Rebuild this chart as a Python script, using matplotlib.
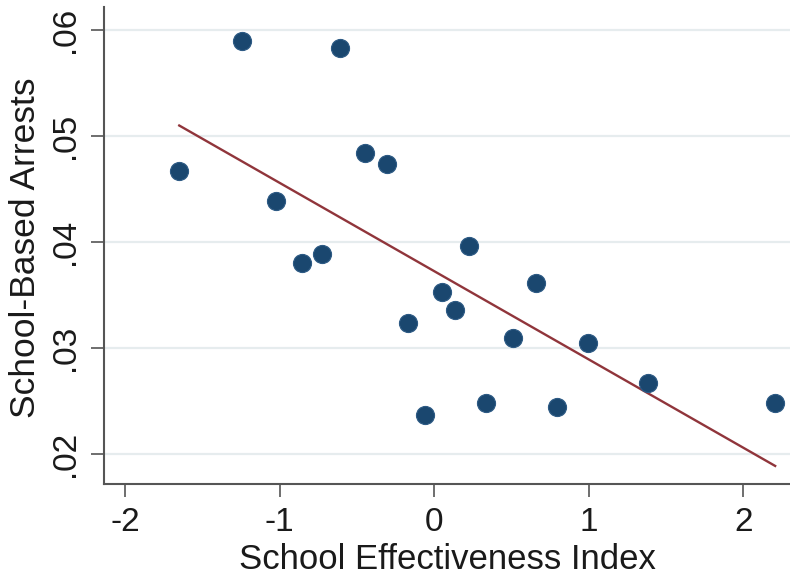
import numpy as np
import matplotlib.pyplot as plt

plt.rcParams["font.family"] = ["Liberation Sans", "DejaVu Sans"]

# school-level values: effectiveness index vs. share of school-based arrests
effectiveness = [-1.649, -1.242, -1.023, -0.853, -0.728, -0.611, -0.448, -0.305,
                 -0.171, -0.057, 0.048, 0.137, 0.227, 0.335, 0.508, 0.658,
                 0.794, 0.993, 1.383, 2.206]
arrests = [0.0467, 0.0590, 0.0439, 0.0380, 0.0389, 0.0583, 0.0484, 0.0474,
           0.0324, 0.0237, 0.0353, 0.0336, 0.0396, 0.0248, 0.0309, 0.0361,
           0.0244, 0.0305, 0.0267, 0.0248]

x_ticks = [-2, -1, 0, 1, 2]
x_tick_labels = ["-2", "-1", "0", "1", "2"]
y_ticks = [0.02, 0.03, 0.04, 0.05, 0.06]
y_tick_labels = [".02", ".03", ".04", ".05", ".06"]

navy = "#1a476f"
maroon = "#90353b"
ink = "#1a1a1a"

fig = plt.figure(figsize=(7.9, 5.76), dpi=100)
ax = fig.add_axes([0.1316, 0.1597, 0.8684, 0.8281])

x = np.array(effectiveness)
y = np.array(arrests)

# linear fit over the observed range
slope, intercept = np.polyfit(x, y, 1)
xfit = np.array([x.min(), x.max()])
ax.plot(xfit, intercept + slope * xfit, color=maroon, lw=1.7, zorder=2)

ax.scatter(x, y, s=170, color=navy, edgecolor="#2e5b85", linewidth=0.8, zorder=3)

ax.set_xlim(-2.136, 2.302)
ax.set_ylim(0.01717, 0.06217)
ax.set_xticks(x_ticks)
ax.set_xticklabels(x_tick_labels)
ax.set_yticks(y_ticks)
ax.set_yticklabels(y_tick_labels)

ax.grid(axis="y", color="#e6ecee", lw=1.6, zorder=0)
ax.set_axisbelow(True)

for side in ["top", "right"]:
    ax.spines[side].set_visible(False)
for side in ["left", "bottom"]:
    ax.spines[side].set_color("#555555")
    ax.spines[side].set_linewidth(1.5)

ax.tick_params(axis="both", length=9.5, width=1.2, color="#555555",
               labelsize=24, labelcolor=ink, pad=7)
ax.tick_params(axis="y", labelrotation=90)
for lab in ax.get_yticklabels():
    lab.set_va("center")

ax.set_xlabel("School Effectiveness Index", fontsize=25, color=ink, labelpad=4)
ax.set_ylabel("School-Based Arrests", fontsize=25.5, color=ink)
ax.yaxis.set_label_coords(-0.09, 0.495)

fig.savefig("out.png", dpi=100, facecolor="white")
